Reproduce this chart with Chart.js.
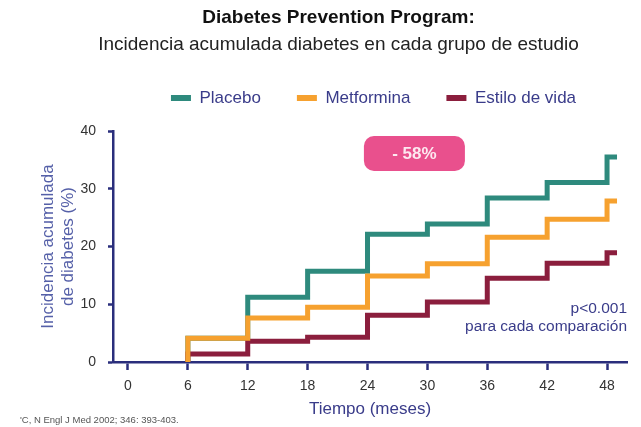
<!DOCTYPE html>
<html>
<head>
<meta charset="utf-8">
<script src="https://cdn.jsdelivr.net/npm/chart.js@4.4.1/dist/chart.umd.min.js"></script>
<style>
  html, body { margin: 0; padding: 0; background: #fff; }
  #wrap { width: 641px; height: 427px; position: relative; }
</style>
</head>
<body>
<div id="wrap"><canvas id="dppChart"></canvas></div>
<script>
// datos (incidencia acumulada, %)
const months = [6, 12, 18, 24, 30, 36, 42, 48];
const endMonth = 49;
const placebo = [4.1, 11.2, 15.7, 22.1, 23.9, 28.4, 31.1, 35.5];
const metformina = [4.1, 7.6, 9.5, 14.9, 17.0, 21.6, 24.7, 27.9];
const estiloVida = [1.4, 3.6, 4.3, 8.1, 10.4, 14.5, 17.1, 18.9];
const seriesNames = ["Placebo", "Metformina", "Estilo de vida"];
const xTicks = [0, 6, 12, 18, 24, 30, 36, 42, 48];
const yTicks = [0, 10, 20, 30, 40];

const navy = "#2a2e7c";
const font = "'Liberation Sans', Arial, sans-serif";
Chart.defaults.font.family = font;

// escalones: sube en cada mes y se mantiene hasta el siguiente
function steps(vals) {
  const pts = [{ x: months[0], y: 0 }];
  months.forEach((m, i) => pts.push({ x: m, y: vals[i] }));
  pts.push({ x: endMonth, y: vals[vals.length - 1] });
  return pts;
}

function serie(label, vals, color, order) {
  return {
    label: label,
    data: steps(vals),
    borderColor: color,
    backgroundColor: color,
    borderWidth: 5,
    stepped: "before",
    pointRadius: 0,
    borderCapStyle: "butt",
    borderJoinStyle: "miter",
    order: order,
  };
}

// textos sobre el grafico: -58%, p<0.001, cita
const notes = {
  id: "notes",
  afterDatasetsDraw(chart) {
    const { ctx, scales: { x, y }, chartArea } = chart;
    ctx.save();

    // caja rosa
    const cx = x.getPixelForValue(28.7);
    const cy = y.getPixelForValue(36.1);
    const w = 101, h = 35;
    ctx.fillStyle = "#e9508d";
    ctx.beginPath();
    ctx.roundRect(cx - w / 2, cy - h / 2, w, h, 10);
    ctx.fill();
    ctx.fillStyle = "#fde8f0";
    ctx.font = "bold 17px " + font;
    ctx.textAlign = "center";
    ctx.textBaseline = "middle";
    ctx.fillText("- 58%", cx, cy + 1);

    // p valor
    ctx.fillStyle = "#3a3c8a";
    ctx.font = "15.5px " + font;
    ctx.textAlign = "right";
    ctx.fillText("p<0.001", chartArea.right, y.getPixelForValue(9.2));
    ctx.fillText("para cada comparación", chartArea.right, y.getPixelForValue(6.1));

    // cita
    ctx.fillStyle = "#555";
    ctx.font = "9.5px " + font;
    ctx.textAlign = "left";
    ctx.fillText("'C, N Engl J Med 2002; 346: 393-403.", 20, 420);
    ctx.restore();
  },
};

// titulo y leyenda van algo corridos a la derecha en el original
const shiftTop = {
  id: "shiftTop",
  afterLayout(chart) {
    chart.boxes.forEach((b) => {
      if (b.axis || b.position !== "top") return;
      const dx = b === chart.legend ? 60 : 25;
      b.left += dx;
      b.right += dx;
      if (b === chart.legend) {
        b.top -= 3;
        b.bottom -= 3;
      }
    });
  },
};

const ctx = document.getElementById("dppChart").getContext("2d");

new Chart(ctx, {
  type: "line",
  data: {
    datasets: [
      serie(seriesNames[0], placebo, "#2e8a7d", 2),
      serie(seriesNames[1], metformina, "#f6a12f", 0),
      serie(seriesNames[2], estiloVida, "#8b1e3d", 1),
    ],
  },
  options: {
    responsive: true,
    maintainAspectRatio: false,
    animation: false,
    layout: { padding: { left: 0, right: 14, top: 0, bottom: 7 } },
    scales: {
      x: {
        type: "linear",
        min: -1.5,
        max: 50,
        afterBuildTicks: (s) => { s.ticks = xTicks.map((v) => ({ value: v })); },
        afterFit: (s) => { s.height = 58; },
        grid: { drawOnChartArea: false, tickLength: 8, tickColor: navy, tickWidth: 2.5 },
        border: { color: navy, width: 2.5 },
        ticks: { color: "#333", font: { size: 14 }, padding: 8, autoSkip: false },
        title: {
          display: true,
          text: "Tiempo (meses)",
          color: "#3a3c8a",
          font: { size: 17 },
          padding: { top: 0, bottom: 0 },
        },
      },
      xTop: {
        type: "linear",
        position: "top",
        display: true,
        afterFit: (s) => { s.height = 11.6; },
        grid: { display: false },
        border: { display: false },
        ticks: { display: false },
      },
      y: {
        min: 0,
        max: 40,
        afterBuildTicks: (s) => { s.ticks = yTicks.map((v) => ({ value: v })); },
        afterFit: (s) => { s.width = 113; },
        grid: { drawOnChartArea: false, tickLength: 5, tickColor: navy, tickWidth: 2.5 },
        border: { color: navy, width: 2.5 },
        ticks: { color: "#333", font: { size: 14 }, padding: 12 },
        title: {
          display: true,
          text: ["Incidencia acumulada", "de diabetes (%)"],
          color: "#5560a8",
          font: { size: 17, lineHeight: 1.2 },
          padding: { top: 37.8, bottom: 0 },
        },
      },
    },
    plugins: {
      title: {
        display: true,
        text: "Diabetes Prevention Program:",
        color: "#111",
        font: { size: 19, weight: "bold" },
        padding: { top: 6.6, bottom: 0 },
      },
      subtitle: {
        display: true,
        text: "Incidencia acumulada diabetes en cada grupo de estudio",
        color: "#222",
        font: { size: 19 },
        padding: { top: 4.2, bottom: 0 },
      },
      legend: {
        labels: {
          boxWidth: 20,
          boxHeight: 6,
          padding: 36,
          color: "#3a3c8a",
          font: { size: 17 },
          sort: (a, b) => a.datasetIndex - b.datasetIndex,
          generateLabels(chart) {
            const items = Chart.defaults.plugins.legend.labels.generateLabels(chart);
            items.forEach((it) => { it.lineWidth = 0; });
            return items;
          },
        },
      },
      tooltip: { enabled: false },
    },
  },
  plugins: [notes, shiftTop],
});
</script>
</body>
</html>
